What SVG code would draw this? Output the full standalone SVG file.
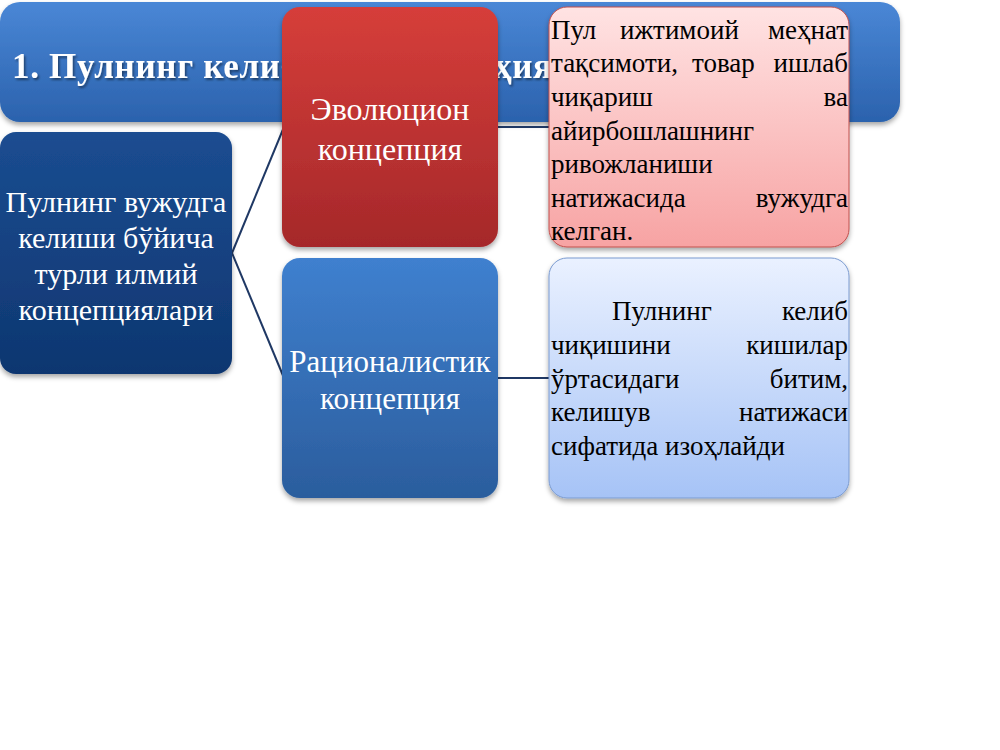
<svg xmlns="http://www.w3.org/2000/svg" width="1000" height="750" viewBox="0 0 1000 750">
<defs>
<linearGradient id="gTitle" x1="0" y1="0" x2="0" y2="1"><stop offset="0" stop-color="#4a87d6"/><stop offset="1" stop-color="#2b62ad"/></linearGradient>
<linearGradient id="gDark" x1="0" y1="0" x2="0" y2="1"><stop offset="0" stop-color="#1b4d91"/><stop offset="1" stop-color="#0e3670"/></linearGradient>
<linearGradient id="gRed" x1="0" y1="0" x2="0" y2="1"><stop offset="0" stop-color="#d63e3a"/><stop offset="1" stop-color="#a5282a"/></linearGradient>
<linearGradient id="gBlue" x1="0" y1="0" x2="0" y2="1"><stop offset="0" stop-color="#3f80cf"/><stop offset="1" stop-color="#2b5d9d"/></linearGradient>
<linearGradient id="gPink" x1="0" y1="0" x2="0" y2="1"><stop offset="0" stop-color="#ffe3e3"/><stop offset="1" stop-color="#f7a3a3"/></linearGradient>
<linearGradient id="gLight" x1="0" y1="0" x2="0" y2="1"><stop offset="0" stop-color="#eaf1ff"/><stop offset="1" stop-color="#a6c3f6"/></linearGradient>
<filter id="sh" x="-10%" y="-10%" width="120%" height="125%"><feDropShadow dx="0" dy="3" stdDeviation="2.5" flood-color="#000" flood-opacity="0.35"/></filter>
<filter id="ts" x="-5%" y="-20%" width="110%" height="150%"><feDropShadow dx="1.5" dy="2" stdDeviation="1.2" flood-color="#000" flood-opacity="0.45"/></filter>
<clipPath id="titleClip"><rect x="0" y="0" width="549" height="122"/></clipPath>
</defs>
<style>
.w{fill:#fff;font-family:"Liberation Serif","Times New Roman",serif;}
.b{fill:#000;font-family:"Liberation Serif","Times New Roman",serif;font-size:27px;}
.c{text-anchor:middle;}
.e{text-anchor:end;}
.con{stroke:#1f3864;stroke-width:2;fill:none;}
</style>
<g id="title">
<rect x="0" y="2" width="900" height="120" rx="20" fill="url(#gTitle)" filter="url(#sh)"/>
<g clip-path="url(#titleClip)"><text class="w" x="12" y="78" font-size="35" font-weight="bold" textLength="540" lengthAdjust="spacing" filter="url(#ts)">1. Пулнинг келиб чиқиши моҳия</text></g>
</g>
<g id="connectors">
<line class="con" x1="232" y1="253" x2="284" y2="127"/>
<line class="con" x1="232" y1="253" x2="284" y2="378"/>
<line class="con" x1="496" y1="127" x2="551" y2="127"/>
<line class="con" x1="496" y1="378" x2="551" y2="378"/>
</g>
<g id="root">
<rect x="0" y="132" width="232" height="242" rx="16" fill="url(#gDark)" filter="url(#sh)"/>
<text class="w c" font-size="30"><tspan x="116" y="212">Пулнинг вужудга</tspan><tspan x="116" y="248">келиши бўйича</tspan><tspan x="116" y="284">турли илмий</tspan><tspan x="116" y="320">концепциялари</tspan></text>
</g>
<g id="evolution">
<rect x="282" y="7" width="216" height="240" rx="18" fill="url(#gRed)" filter="url(#sh)"/>
<text class="w c" font-size="32"><tspan x="390" y="120">Эволюцион</tspan><tspan x="390" y="160">концепция</tspan></text>
</g>
<g id="rational">
<rect x="282" y="258" width="216" height="240" rx="18" fill="url(#gBlue)" filter="url(#sh)"/>
<text class="w c" font-size="31"><tspan x="390" y="372">Рационалистик</tspan><tspan x="390" y="409">концепция</tspan></text>
</g>
<g id="evolution-desc">
<rect x="549" y="7" width="300" height="240" rx="18" fill="url(#gPink)" stroke="#c0504d" stroke-width="1" filter="url(#sh)"/>
<text class="b" x="551" y="39">Пул</text><text class="b" x="620" y="39">ижтимоий</text><text class="b e" x="848" y="39">меҳнат</text>
<text class="b" x="551" y="72">тақсимоти,</text><text class="b" x="692" y="72">товар</text><text class="b e" x="848" y="72">ишлаб</text>
<text class="b" x="551" y="106">чиқариш</text><text class="b e" x="848" y="106">ва</text>
<text class="b" x="551" y="140">айирбошлашнинг</text>
<text class="b" x="551" y="173">ривожланиши</text>
<text class="b" x="551" y="207">натижасида</text><text class="b e" x="848" y="207">вужудга</text>
<text class="b" x="551" y="240">келган.</text>
</g>
<g id="rational-desc">
<rect x="549" y="258" width="300" height="240" rx="18" fill="url(#gLight)" stroke="#7b9bd0" stroke-width="1" filter="url(#sh)"/>
<text class="b" x="612" y="320">Пулнинг</text><text class="b e" x="848" y="320">келиб</text>
<text class="b" x="551" y="354">чиқишини</text><text class="b e" x="848" y="354">кишилар</text>
<text class="b" x="551" y="388">ўртасидаги</text><text class="b e" x="848" y="388">битим,</text>
<text class="b" x="551" y="421">келишув</text><text class="b e" x="848" y="421">натижаси</text>
<text class="b" x="551" y="455">сифатида изоҳлайди</text>
</g>
</svg>
